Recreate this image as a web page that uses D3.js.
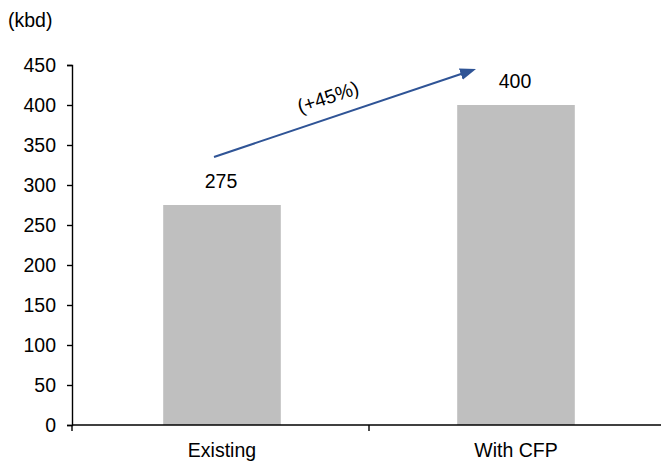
<!DOCTYPE html>
<html>
<head>
<meta charset="utf-8">
<script src="https://cdn.jsdelivr.net/npm/d3@7"></script>
<style>
  html, body { margin: 0; padding: 0; background: #fff; }
  svg { display: block; font-family: "Liberation Sans", Arial, sans-serif; }
</style>
</head>
<body>
<svg id="chart" width="661" height="463"></svg>
<script>
// Capacity comparison (thousand barrels per day)
const categories = ["Existing", "With CFP"];
const capacity = [275, 400];
const yTicks = [0, 50, 100, 150, 200, 250, 300, 350, 400, 450];
const unitLabel = "(kbd)";
const growthLabel = "(+45%)";

const svg = d3.select("#chart");
const fontSize = 19.5;
const axisX = 72, plotRight = 663, plotTop = 65, plotBottom = 425;

const x = d3.scaleBand().domain(categories).range([75, plotRight]).padding(0);
const y = d3.scaleLinear().domain([0, 450]).range([plotBottom, plotTop]);

const barW = x.bandwidth() * 0.4;
const cx = d => x(d) + x.bandwidth() / 2;

// bars
svg.append("g").selectAll("rect")
  .data(categories)
  .join("rect")
  .attr("x", d => cx(d) - barW / 2)
  .attr("y", (d, i) => y(capacity[i]))
  .attr("width", barW)
  .attr("height", (d, i) => y(0) - y(capacity[i]))
  .attr("fill", "#bfbfbf");

// value labels
svg.append("g").selectAll("text")
  .data(categories)
  .join("text")
  .attr("x", d => cx(d) - 1)
  .attr("y", (d, i) => y(capacity[i]) - 17)
  .attr("text-anchor", "middle")
  .attr("font-size", fontSize)
  .attr("fill", "#000")
  .text((d, i) => capacity[i]);

// y axis
const yAxis = svg.append("g")
  .attr("transform", `translate(${axisX},0)`)
  .call(d3.axisLeft(y).tickValues(yTicks).tickSize(5).tickPadding(11));
yAxis.select(".domain").attr("stroke", "#000").attr("stroke-width", 1.4);
yAxis.selectAll(".tick line").attr("stroke", "#000").attr("stroke-width", 1.4);
yAxis.selectAll(".tick text")
  .attr("font-size", fontSize)
  .attr("fill", "#000")
  .style("font-family", "'Liberation Sans', Arial, sans-serif");

// x axis: baseline with ticks at category boundaries
const xAxisG = svg.append("g");
xAxisG.append("line")
  .attr("x1", axisX).attr("x2", plotRight)
  .attr("y1", y(0)).attr("y2", y(0))
  .attr("stroke", "#000").attr("stroke-width", 1.4);
const boundaries = [axisX, x(categories[1]), plotRight];
xAxisG.selectAll("line.tick")
  .data(boundaries)
  .join("line")
  .attr("class", "tick")
  .attr("x1", d => d).attr("x2", d => d)
  .attr("y1", y(0)).attr("y2", y(0) + 6)
  .attr("stroke", "#000").attr("stroke-width", 1.4);
xAxisG.selectAll("text")
  .data(categories)
  .join("text")
  .attr("x", d => cx(d))
  .attr("y", y(0) + 32)
  .attr("text-anchor", "middle")
  .attr("font-size", fontSize)
  .attr("fill", "#000")
  .text(d => d);

// unit label
svg.append("text")
  .attr("x", 8).attr("y", 27)
  .attr("font-size", fontSize)
  .attr("fill", "#000")
  .text(unitLabel);

// growth arrow between the bars
const arrowColor = "#2f5496";
const defs = svg.append("defs");
defs.append("marker")
  .attr("id", "arrowhead")
  .attr("viewBox", "0 0 16 12")
  .attr("refX", 1).attr("refY", 6)
  .attr("markerWidth", 16).attr("markerHeight", 12)
  .attr("markerUnits", "userSpaceOnUse")
  .attr("orient", "auto")
  .append("path")
  .attr("d", "M0,0 L16,6 L0,12 Z")
  .attr("fill", arrowColor);

const ax0 = cx(categories[0]) - 8;
const ay0 = y(capacity[0]) - 48;
const ax1 = cx(categories[1]) - 40;
const ay1 = y(capacity[1]) - 36;
const len = Math.hypot(ax1 - ax0, ay1 - ay0);
const ux = (ax1 - ax0) / len, uy = (ay1 - ay0) / len;

svg.append("line")
  .attr("x1", ax0).attr("y1", ay0)
  .attr("x2", ax1 - 15 * ux).attr("y2", ay1 - 15 * uy)
  .attr("stroke", arrowColor)
  .attr("stroke-width", 2)
  .attr("marker-end", "url(#arrowhead)");

const angle = Math.atan2(ay1 - ay0, ax1 - ax0) * 180 / Math.PI;
svg.append("text")
  .attr("transform", `translate(${(ax0 + ax1) / 2 - 17},${(ay0 + ay1) / 2 - 16}) rotate(${angle})`)
  .attr("text-anchor", "middle")
  .attr("dy", "0.35em")
  .attr("font-size", fontSize)
  .attr("fill", "#000")
  .text(growthLabel);
</script>
</body>
</html>
